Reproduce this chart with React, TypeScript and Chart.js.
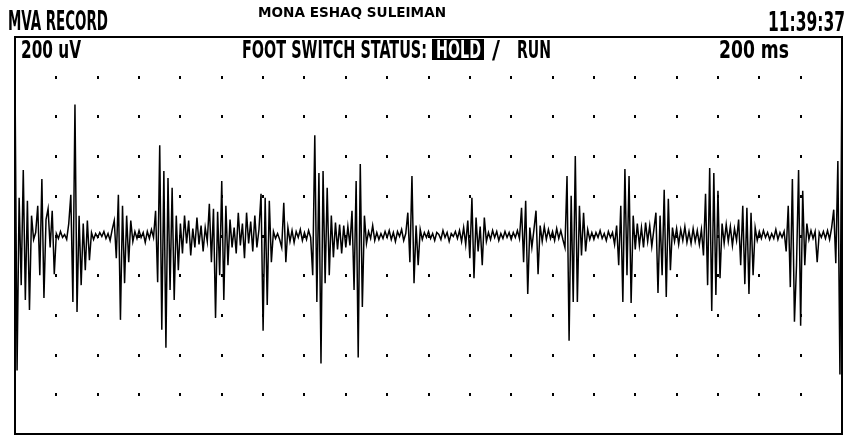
import React, { useEffect, useRef } from "react";
import { Chart, registerables } from "chart.js";

Chart.register(...registerables);

// ---- sweep settings (200 ms/div x 20 div, 200 uV/div x 10 div) ----
const SAMPLE_MS = 10;
const SWEEP_MS = 4000;
const RANGE_UV = 1000;

// grid dot positions (interior divisions)
const xDivisions = [200, 400, 600, 800, 1000, 1200, 1400, 1600, 1800, 2000, 2200, 2400, 2600, 2800, 3000, 3200, 3400, 3600, 3800];
const yDivisions = [-800, -600, -400, -200, 0, 200, 400, 600, 800];

// ---- texts ----
const titleLeft = "MVA RECORD";
const patientName = "MONA ESHAQ SULEIMAN";
const clockText = "11:39:37";
const gainText = "200 uV";
const footLabel = "FOOT SWITCH STATUS:";
const holdText = "HOLD";
const slashText = "/";
const runText = "RUN";
const sweepText = "200 ms";

// ---- EMG signal, uV, one sample per 10 ms, one array per 200 ms division ----
const div01 = [800, -680, 190, -250, 330, -325, 175, -375, 100, -20, 15, 150, -200, 285, -315, 80, 135, -60, 125, -195];
const div02 = [10, -15, 20, -10, 5, -20, 60, 205, -335, 660, -385, 100, -250, 60, -175, 75, -125, 15, -20, 10];
const div03 = [-10, 15, -5, 20, -15, 10, -25, 30, 75, -115, 205, -425, 150, -240, 100, -135, 75, -30, 20, -15];
const div04 = [25, -10, 15, -35, 20, -15, 30, -10, 125, -235, 455, -475, 325, -565, 290, -275, 240, -325, 100, -175];
const div05 = [60, -90, 100, -40, 75, -100, 35, -60, 90, -45, 50, -80, 40, -30, 160, -135, 135, -415, 120, -200];
const div06 = [275, -325, 150, -150, 80, -60, 40, -90, 115, -50, 60, -115, 115, -40, 70, -80, 100, -60, 30, 210];
const div07 = [-480, 190, -350, 175, -135, 20, -15, 10, -20, -60, 165, -135, 40, -30, 25, -35, 20, -10, 30, -25];
const div08 = [15, -20, 25, -10, -200, 505, -335, 315, -645, 325, -240, 240, -200, 100, -110, 65, -70, 55, -90, 50];
const div09 = [-60, 45, -50, 125, -275, 275, -615, 360, -360, 100, -40, 20, -15, 50, -25, 15, -20, 10, -15, 20];
const div10 = [-10, 25, -20, 15, -30, 20, -5, 30, -25, 10, 115, -135, 300, -240, 50, -150, 30, -20, 15, -10];
const div11 = [20, -15, 10, -25, 15, 5, -20, 25, -10, 15, -30, 10, -5, 20, -15, 25, -30, 40, -45, 75];
const div12 = [-115, 190, -215, 90, -80, 45, -150, 90, -30, 15, -20, 25, -10, 20, -25, 10, -15, 20, -10, 15];
const div13 = [-20, 15, -10, 25, -15, 140, -135, 175, -295, 40, -60, 30, 125, -195, 50, -30, 45, -20, 30, -15];
const div14 = [20, -25, 35, -15, 25, -20, -60, 300, -530, 200, -335, 400, -335, 150, -100, 115, -80, 30, -20, 15];
const div15 = [-20, 15, -10, 25, -15, 10, -25, 20, -10, 15, -45, 50, -150, 150, -335, 335, -200, 300, -340, 100];
const div16 = [-70, 60, -50, 40, -60, 65, -30, 50, -55, 30, 115, -290, 100, -200, 230, -310, 185, -175, 40, -30];
const div17 = [35, -45, 30, -25, 45, -35, 20, -40, 35, -30, 25, -45, 30, -100, 210, -250, 340, -380, 315, -300];
const div18 = [225, -215, 60, -40, 55, -30, 45, -50, 35, -25, 80, -150, 150, -245, 140, -295, 115, -200, 40, -25];
const div19 = [20, -15, 25, -10, 15, -20, 10, -15, 30, -20, 15, -10, 20, -80, 150, -260, 285, -435, -150, 330];
const div20 = [-455, 225, -150, 60, -20, 25, -15, 20, -135, 15, -10, 20, -15, 25, -20, 40, 130, -140, 375, -700, 900];

const signal = [
  ...div01, ...div02, ...div03, ...div04, ...div05,
  ...div06, ...div07, ...div08, ...div09, ...div10,
  ...div11, ...div12, ...div13, ...div14, ...div15,
  ...div16, ...div17, ...div18, ...div19, ...div20,
];

const FONT_FAMILY = '"DejaVu Sans Condensed", "Liberation Sans Narrow", "DejaVu Sans", sans-serif';

function fitText(
  ctx: CanvasRenderingContext2D,
  text: string,
  x: number,
  base: number,
  cap: number,
  width: number,
  weight = "bold",
  color = "#000"
) {
  const size = cap / 0.73;
  ctx.font = `${weight} ${size}px ${FONT_FAMILY}`;
  const w = ctx.measureText(text).width;
  ctx.save();
  ctx.translate(x, base);
  ctx.scale(width / w, 1);
  ctx.fillStyle = color;
  ctx.textBaseline = "alphabetic";
  ctx.textAlign = "left";
  ctx.fillText(text, 0, 0);
  ctx.restore();
}

const panelPlugin = {
  id: "emgPanel",
  beforeDatasetsDraw(chart: any) {
    const { ctx, scales } = chart;
    const xs = scales.x;
    const ys = scales.y;
    ctx.save();
    ctx.fillStyle = "#000";
    for (const xv of xDivisions) {
      for (const yv of yDivisions) {
        const px = Math.round(xs.getPixelForValue(xv));
        const py = Math.round(ys.getPixelForValue(yv));
        ctx.fillRect(px - 1, py - 1, 2, 3);
      }
    }
    ctx.restore();
  },
  afterDraw(chart: any) {
    const { ctx, chartArea: a } = chart;
    ctx.save();
    ctx.strokeStyle = "#000";
    ctx.lineWidth = 2;
    ctx.strokeRect(a.left, a.top, a.right - a.left, a.bottom - a.top);
    ctx.restore();

    // header line (outside the frame)
    fitText(ctx, titleLeft, 8, 30, 20, 100);
    fitText(ctx, patientName, 258, 17, 10, 188);
    fitText(ctx, clockText, 768, 31, 20, 77);

    // status line (inside the frame)
    fitText(ctx, gainText, 21, 58, 18, 60);
    fitText(ctx, footLabel, 242, 58, 18, 185);
    ctx.save();
    ctx.fillStyle = "#000";
    ctx.fillRect(432, 39, 52, 21);
    ctx.restore();
    fitText(ctx, holdText, 436, 58, 18, 45, "bold", "#fff");
    fitText(ctx, slashText, 492, 58, 18, 8);
    fitText(ctx, runText, 517, 58, 18, 34);
    fitText(ctx, sweepText, 719, 58, 18, 70);
  },
};

export default function App() {
  const canvasRef = useRef<HTMLCanvasElement | null>(null);

  useEffect(() => {
    const canvas = canvasRef.current;
    if (!canvas) return;
    const points = signal.map((v, i) => ({ x: i * SAMPLE_MS, y: v }));
    const chart = new Chart(canvas, {
      type: "line",
      data: {
        datasets: [
          {
            label: "EMG",
            data: points,
            borderColor: "#000",
            borderWidth: 1.5,
            pointRadius: 0,
            tension: 0,
            fill: false,
          },
        ],
      },
      options: {
        responsive: false,
        animation: false,
        layout: { padding: { left: 15, right: 5, top: 37, bottom: 2 } },
        scales: {
          x: { type: "linear", min: 0, max: SWEEP_MS, display: false },
          y: { type: "linear", min: -RANGE_UV, max: RANGE_UV, display: false },
        },
        plugins: {
          legend: { display: false },
          tooltip: { enabled: false },
          title: { display: false },
        },
        events: [],
      },
      plugins: [panelPlugin],
    });
    return () => chart.destroy();
  }, []);

  return (
    <div style={{ position: "absolute", left: 0, top: 0, width: 847, height: 436, background: "#fff" }}>
      <canvas ref={canvasRef} width={847} height={436} style={{ display: "block" }} />
    </div>
  );
}
